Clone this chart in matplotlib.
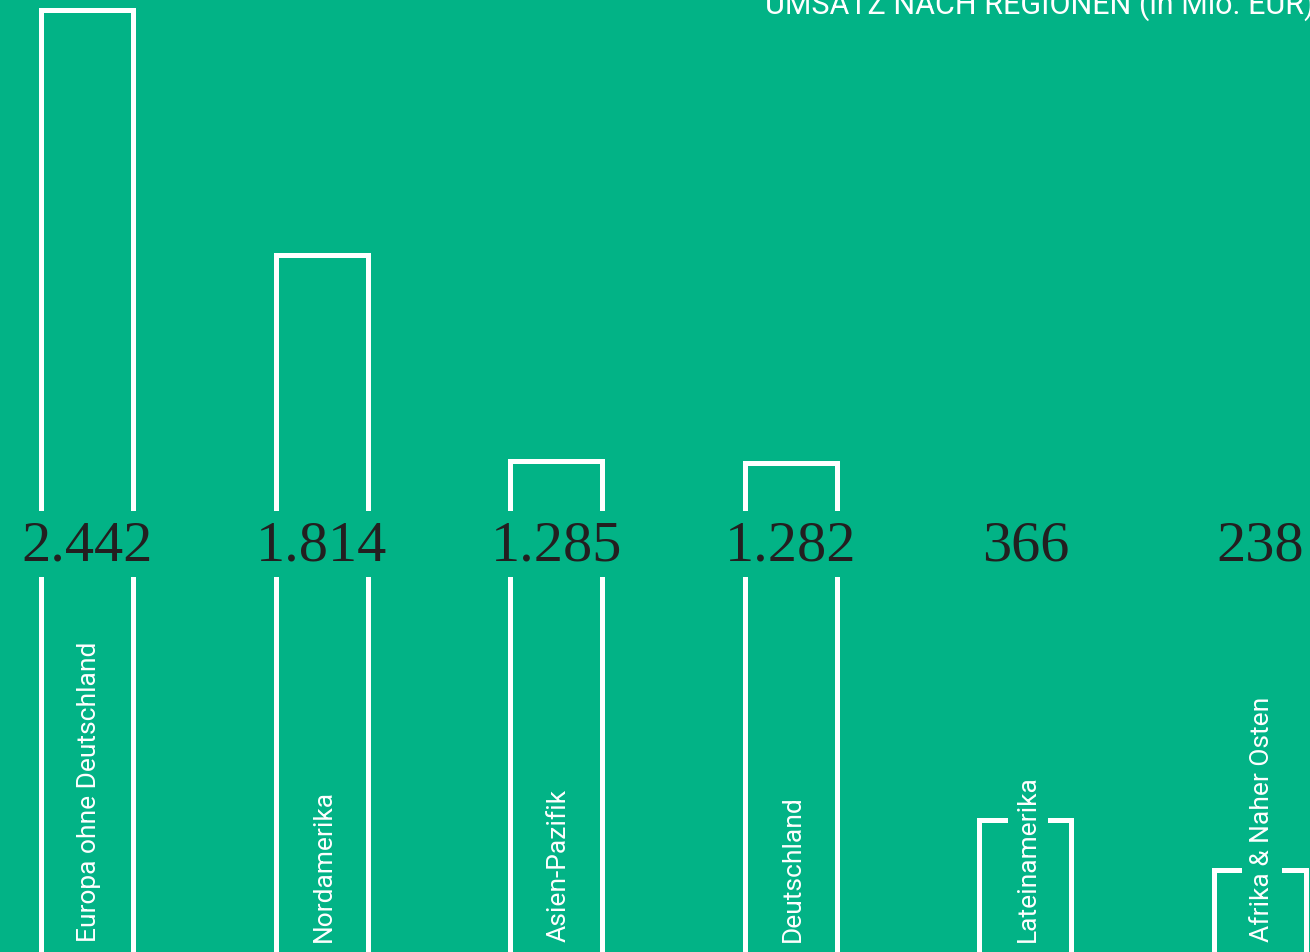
import numpy as np
import matplotlib
matplotlib.use('Agg')
import matplotlib.pyplot as plt
from matplotlib import font_manager

BG_COLOR = '#02b386'
LINE_COLOR = 'white'
NUMBER_COLOR = '#231f20'

regions = ['Europa ohne Deutschland', 'Nordamerika', 'Asien-Pazifik',
           'Deutschland', 'Lateinamerika', 'Afrika & Naher Osten']
revenue = [2442, 1814, 1285, 1282, 366, 238]
value_labels = ['2.442', '1.814', '1.285', '1.282', '366', '238']
title = 'UMSATZ NACH REGIONEN (in Mio. EUR)'


def pick_font(candidates):
    names = {f.name for f in font_manager.fontManager.ttflist}
    for c in candidates:
        if c in names:
            return c
    return 'DejaVu Sans'


def load_plot_defaults():
    plt.rc('font', size=11)
    plt.rc('lines', solid_capstyle='projecting', solid_joinstyle='miter')


def export_region_bars():
    sans = pick_font(['Roboto', 'Open Sans', 'Lato', 'DejaVu Sans'])
    serif = pick_font(['Liberation Serif', 'DejaVu Serif'])

    fig = plt.figure(figsize=(13.1, 9.53), dpi=100)
    fig.patch.set_facecolor(BG_COLOR)
    ax = fig.add_axes([0, 0, 1, 1])
    ax.set_facecolor(BG_COLOR)

    x = np.arange(len(regions))
    width = 0.392
    gap_lo, gap_hi = 985, 1165  # band where the numbers sit

    for xi, v in zip(x, revenue):
        left, right = xi - width / 2, xi + width / 2
        if v > gap_hi:
            ax.plot([left, left, right, right], [gap_hi, v, v, gap_hi],
                    color=LINE_COLOR, lw=3.6, zorder=2)
            ax.plot([left, left], [0, gap_lo], color=LINE_COLOR, lw=3.6, zorder=2)
            ax.plot([right, right], [0, gap_lo], color=LINE_COLOR, lw=3.6, zorder=2)
        else:
            ax.plot([left, left, right, right], [0, v, v, 0],
                    color=LINE_COLOR, lw=3.6, zorder=2)

    for xi, lab in zip(x, value_labels):
        ax.text(xi, 1035, lab, ha='center', va='baseline', fontsize=42,
                family=serif, color=NUMBER_COLOR, zorder=4)

    for xi, name in zip(x, regions):
        ax.text(xi + 0.01, 56, name, rotation=90, ha='center', va='bottom',
                fontsize=19, family=sans, weight='normal', color='white',
                zorder=4,
                bbox=dict(boxstyle='square,pad=0.3', facecolor=BG_COLOR,
                          edgecolor='none'))

    # the title runs off the right edge like in the original layout
    fig.text(765 / 1310, 1 - 14 / 953, title, ha='left', va='baseline',
             fontsize=22, family=sans, weight='normal', color='white')

    ax.set_xlim(-0.371, 5.213)
    ax.set_ylim(28, 2470)
    ax.axis('off')

    fig.savefig('out.png', dpi=100, facecolor=BG_COLOR)
    plt.close(fig)


if __name__ == '__main__':
    load_plot_defaults()
    export_region_bars()
